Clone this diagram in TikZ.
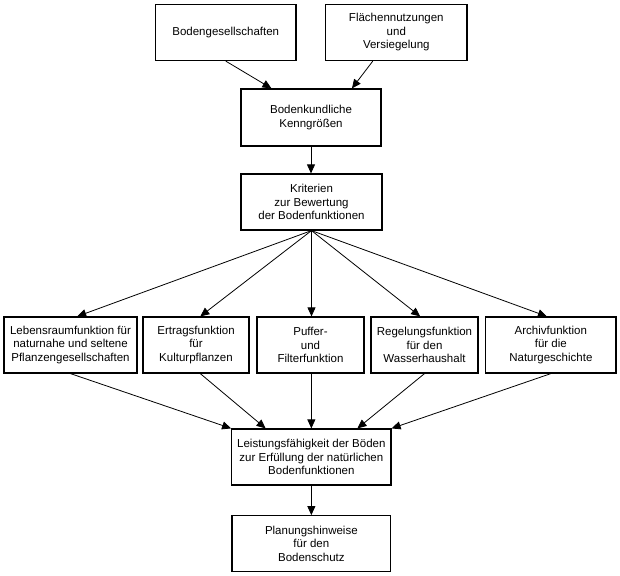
\documentclass[tikz,border=0pt]{standalone}
\usepackage{fontspec}
\setmainfont{Liberation Sans}
\usetikzlibrary{arrows.meta,calc}
\begin{document}
\begin{tikzpicture}[x=1pt,y=-1pt,
  box/.style={draw=black,line width=1.2pt,fill=white,inner sep=0pt,align=center,
    font=\fontsize{11.5}{13.5}\selectfont,minimum height=56pt},
  conn/.style={draw=black,line width=0.8pt,-{Triangle[length=9pt,width=8pt]}}]
\useasboundingbox[fill=white] (0,0) rectangle (620,575);
\node[box,minimum width=140.5pt] (b1) at (225.75,32.5) {Bodengesellschaften};
\node[box,minimum width=141.3pt] (b2) at (396.3,32.5) {Flächennutzungen\\und\\Versiegelung};
\node[box,minimum width=140pt,minimum height=57pt] (b3) at (311,117.5) {Bodenkundliche\\Kenngrößen};
\node[box,minimum width=141pt] (b4) at (311.5,202) {Kriterien\\zur Bewertung\\der Bodenfunktionen};
\node[box,minimum width=133pt] (r1) at (70.5,345) {Lebensraumfunktion für\\naturnahe und seltene\\Pflanzengesellschaften};
\node[box,minimum width=106pt] (r2) at (196,345) {Ertragsfunktion\\für\\Kulturpflanzen};
\node[box,minimum width=107pt] (r3) at (310.5,345) {Puffer-\\und\\Filterfunktion};
\node[box,minimum width=107pt] (r4) at (424.5,345) {Regelungsfunktion\\für den\\Wasserhaushalt};
\node[box,minimum width=130.3pt] (r5) at (550.85,345) {Archivfunktion\\für die\\Naturgeschichte};
\node[box,minimum width=159.3pt] (b6) at (311.35,457) {Leistungsfähigkeit der Böden\\zur Erfüllung der natürlichen\\Bodenfunktionen};
\node[box,minimum width=158.7pt] (b7) at (311.35,543.7) {Planungshinweise\\für den\\Bodenschutz};
% top
\draw[conn] (b1.south) -- ($(b3.north west)!0.22!(b3.north east)$);
\draw[conn] ($(b2.south west)!0.335!(b2.south east)$) -- ($(b3.north west)!0.79!(b3.north east)$);
\draw[conn] (b3.south) -- (b3.south |- b4.north);
% fan out
\draw[conn] (b4.south) -- ($(r1.north west)!0.55!(r1.north east)$);
\draw[conn] (b4.south) -- ($(r2.north west)!0.54!(r2.north east)$);
\draw[conn] (b4.south) -- (b4.south |- r3.north);
\draw[conn] (b4.south) -- ($(r4.north west)!0.46!(r4.north east)$);
\draw[conn] (b4.south) -- ($(r5.north west)!0.47!(r5.north east)$);
% fan in
\draw[conn] (r1.south) -- (b6.north west);
\draw[conn] ($(r2.south west)!0.54!(r2.south east)$) -- ($(b6.north west)!0.215!(b6.north east)$);
\draw[conn] (b6.north |- r3.south) -- (b6.north);
\draw[conn] (r4.south) -- ($(b6.north west)!0.787!(b6.north east)$);
\draw[conn] (r5.south) -- (b6.north east);
\draw[conn] (b6.south) -- (b7.north);
\end{tikzpicture}
\end{document}
